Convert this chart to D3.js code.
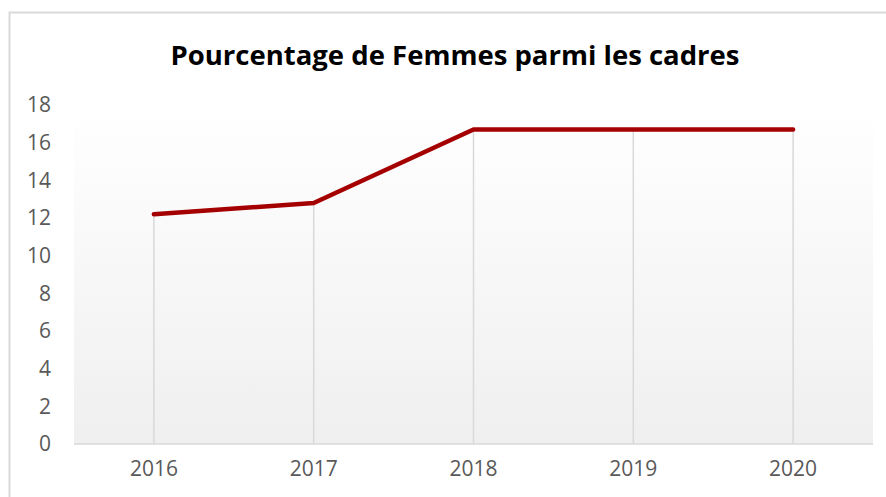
<!DOCTYPE html>
<html>
  <head>
    <meta charset="utf-8" />
    <script src="https://cdn.jsdelivr.net/npm/d3@7"></script>
    <style>
      body { margin: 0; background: #fff; }
      svg text { font-family: "Open Sans", "Noto Sans", sans-serif; }
    </style>
  </head>
  <body>
    <div id="chart"></div>
    <script>
      const years = ["2016", "2017", "2018", "2019", "2020"];
      const percentages = [12.2, 12.8, 16.7, 16.7, 16.7];
      const yTicks = [0, 2, 4, 6, 8, 10, 12, 14, 16, 18];
      const title = "Pourcentage de Femmes parmi les cadres";

      const w = 886;
      const h = 497;
      const margin = { top: 105, right: 13, bottom: 53, left: 74 };

      const svg = d3
        .select("#chart")
        .append("svg")
        .attr("width", w)
        .attr("height", h);

      // chart frame (right/bottom edges fall outside the photo)
      svg
        .append("rect")
        .attr("x", 9.5)
        .attr("y", 12.5)
        .attr("width", w + 20)
        .attr("height", h + 20)
        .attr("fill", "#fff")
        .attr("stroke", "#d9d9d9")
        .attr("stroke-width", 2);

      const x = d3
        .scaleBand()
        .domain(years)
        .range([margin.left, w - margin.right]);

      const y = d3
        .scaleLinear()
        .domain([0, 18])
        .range([h - margin.bottom, margin.top]);

      const grad = svg
        .append("defs")
        .append("linearGradient")
        .attr("id", "bg")
        .attr("x1", 0)
        .attr("y1", 0)
        .attr("x2", 0)
        .attr("y2", 1);
      grad.append("stop").attr("offset", "0%").attr("stop-color", "#ffffff");
      grad.append("stop").attr("offset", "100%").attr("stop-color", "#efefef");

      svg
        .append("rect")
        .attr("x", margin.left)
        .attr("y", y(18))
        .attr("width", w - margin.right - margin.left)
        .attr("height", y(0) - y(18))
        .attr("fill", "url(#bg)");

      svg
        .append("text")
        .attr("x", 455)
        .attr("y", 65)
        .attr("text-anchor", "middle")
        .style("font-size", "27.5px")
        .style("font-weight", "bold")
        .attr("fill", "#000")
        .text(title);

      // drop lines
      svg
        .selectAll(".drop")
        .data(years)
        .enter()
        .append("line")
        .attr("class", "drop")
        .attr("x1", (d) => x(d) + x.bandwidth() / 2)
        .attr("x2", (d) => x(d) + x.bandwidth() / 2)
        .attr("y1", (d, i) => y(percentages[i]))
        .attr("y2", y(0))
        .attr("stroke", "#d9d9d9")
        .attr("stroke-width", 1.5);

      // baseline
      svg
        .append("line")
        .attr("x1", margin.left)
        .attr("x2", w - margin.right)
        .attr("y1", y(0))
        .attr("y2", y(0))
        .attr("stroke", "#d9d9d9")
        .attr("stroke-width", 1.5);

      const yAxis = svg
        .append("g")
        .attr("transform", `translate(${51},0)`)
        .call(d3.axisLeft(y).tickValues(yTicks).tickSize(0).tickPadding(0));
      yAxis.select(".domain").remove();
      yAxis
        .selectAll("text")
        .style("font-size", "21px")
        .attr("fill", "#595959");

      const xAxis = svg
        .append("g")
        .attr("transform", `translate(0,${y(0)})`)
        .call(d3.axisBottom(x).tickSize(0).tickPadding(17));
      xAxis.select(".domain").remove();
      xAxis
        .selectAll("text")
        .style("font-size", "21px")
        .attr("fill", "#595959");

      const line = d3
        .line()
        .x((d, i) => x(years[i]) + x.bandwidth() / 2)
        .y((d) => y(d));

      svg
        .append("path")
        .datum(percentages)
        .attr("d", line)
        .attr("fill", "none")
        .attr("stroke", "#a50000")
        .attr("stroke-width", 4.5)
        .attr("stroke-linecap", "round")
        .attr("stroke-linejoin", "round");
    </script>
  </body>
</html>
